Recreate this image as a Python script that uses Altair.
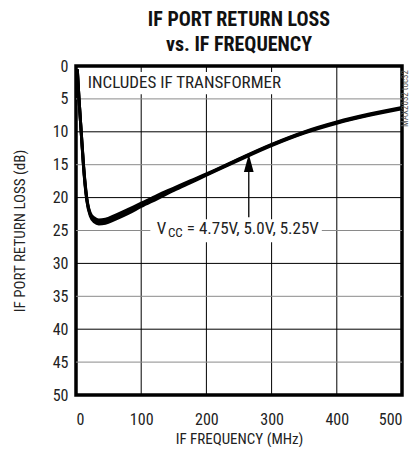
import altair as alt
import pandas as pd

FONT = "Liberation Sans Narrow, Roboto Condensed, DejaVu Sans Condensed, Liberation Sans, sans-serif"

# ---- data ----
freq_mhz = [2, 4.6, 8, 11.5, 16.5, 22, 28, 35, 45, 60, 80, 100, 125, 150, 175, 200, 250, 300, 350, 400, 450, 500]
rl_475 = [0.5, 5.0, 10.0, 15.0, 20.0, 22.4, 23.1, 23.4, 23.3, 22.7, 21.8, 20.85, 19.65, 18.55, 17.45, 16.4, 14.1, 11.9, 10.0, 8.5, 7.3, 6.3]
rl_500 = [0.5, 5.0, 10.0, 15.1, 20.2, 22.6, 23.4, 23.7, 23.6, 23.0, 22.1, 21.1, 19.9, 18.7, 17.6, 16.5, 14.2, 12.0, 10.1, 8.6, 7.4, 6.4]
rl_525 = [0.5, 5.0, 10.1, 15.3, 20.4, 22.8, 23.7, 24.0, 23.9, 23.3, 22.4, 21.35, 20.15, 18.9, 17.75, 16.6, 14.3, 12.1, 10.2, 8.7, 7.5, 6.5]

x_ticks = [0, 100, 200, 300, 400, 500]
y_ticks = [0, 5, 10, 15, 20, 25, 30, 35, 40, 45, 50]
x_grid = [100, 200, 300, 400]
y_grid_dark = [10, 20, 30, 40]
y_grid_light = [5, 15, 25, 35, 45]

rows = []
for name, vals in [("4.75V", rl_475), ("5.0V", rl_500), ("5.25V", rl_525)]:
    for f, v in zip(freq_mhz, vals):
        rows.append({"f": f, "rl": v, "vcc": name})
curve_df = pd.DataFrame(rows)

xs = alt.Scale(domain=[0, 500], nice=False)
ys = alt.Scale(domain=[0, 50], reverse=True, nice=False)

AX = alt.Axis(values=x_ticks, title="IF FREQUENCY (MHz)", grid=False,
              domain=False, ticks=False, labelPadding=16,
              labelFontSize=16, titleFontSize=15, titleFontWeight="normal",
              titlePadding=4, labelFont=FONT, titleFont=FONT,
              labelOverlap=False, labelColor="#222", titleColor="#222")
AY = alt.Axis(values=y_ticks, title="IF PORT RETURN LOSS (dB)", grid=False,
              domain=False, ticks=False, labelPadding=8,
              labelFontSize=16, titleFontSize=15, titleFontWeight="normal",
              titlePadding=25, labelFont=FONT, titleFont=FONT,
              labelOverlap=False, labelColor="#222", titleColor="#222")


def X(field):
    return alt.X(field, scale=xs, axis=AX)


def Y(field):
    return alt.Y(field, scale=ys, axis=AY)


xgrid = alt.Chart(pd.DataFrame({"g": x_grid})).mark_rule(color="black", strokeWidth=1).encode(x=X("g:Q"))
ygrid_d = alt.Chart(pd.DataFrame({"g": y_grid_dark})).mark_rule(color="black", strokeWidth=1).encode(y=Y("g:Q"))
ygrid_l = alt.Chart(pd.DataFrame({"g": y_grid_light})).mark_rule(color="#8a8a8a", strokeWidth=1).encode(y=Y("g:Q"))

# white label backgrounds
box_df = pd.DataFrame({"x1": [12, 114], "x2": [330, 377], "y1": [0.9, 23.3], "y2": [4.3, 26.8]})
boxes = alt.Chart(box_df).mark_rect(color="white").encode(x=X("x1:Q"), x2="x2:Q", y=Y("y1:Q"), y2="y2:Q")

lines = alt.Chart(curve_df).mark_line(color="black", strokeWidth=3, interpolate="monotone").encode(
    x=X("f:Q"), y=Y("rl:Q"), detail="vcc:N")

txt_inc = alt.Chart(pd.DataFrame({"x": [18], "y": [2.6], "t": ["INCLUDES IF TRANSFORMER"]})).mark_text(
    align="left", baseline="middle", font=FONT, fontSize=17, color="#222").encode(
    x=X("x:Q"), y=Y("y:Q"), text="t:N")

txt_v = alt.Chart(pd.DataFrame({"x": [124], "y": [24.8], "t": ["V"]})).mark_text(
    align="left", baseline="middle", font=FONT, fontSize=17, color="#222").encode(
    x=X("x:Q"), y=Y("y:Q"), text="t:N")
txt_cc = alt.Chart(pd.DataFrame({"x": [141], "y": [25.4], "t": ["CC"]})).mark_text(
    align="left", baseline="middle", font=FONT, fontSize=13, color="#222").encode(
    x=X("x:Q"), y=Y("y:Q"), text="t:N")
txt_eq = alt.Chart(pd.DataFrame({"x": [170], "y": [24.8], "t": ["= 4.75V, 5.0V, 5.25V"]})).mark_text(
    align="left", baseline="middle", font=FONT, fontSize=17, color="#222").encode(
    x=X("x:Q"), y=Y("y:Q"), text="t:N")

arrow_df = pd.DataFrame({"x": [265], "y1": [23.0], "y2": [15.5], "yh": [14.75]})
arrow_shaft = alt.Chart(arrow_df).mark_rule(color="black", strokeWidth=1.3).encode(
    x=X("x:Q"), y=Y("y1:Q"), y2="y2:Q")
arrow_head = alt.Chart(arrow_df).mark_point(
    shape="M0,-1L0.55,1L-0.55,1Z", filled=True, color="black", opacity=1, size=313, strokeWidth=0).encode(
    x=X("x:Q"), y=Y("yh:Q"))

tag = alt.Chart(pd.DataFrame({"t": ["MAX2032 toc32"]})).mark_text(
    angle=270, align="right", baseline="middle", font=FONT, fontSize=9, color="#555").encode(
    x=alt.value(329), y=alt.value(4), text="t:N")

chart = alt.layer(
    xgrid, ygrid_l, ygrid_d, boxes, lines, txt_inc, txt_v, txt_cc, txt_eq, arrow_shaft, arrow_head, tag
).properties(
    width=326, height=329,
    title=alt.TitleParams(["IF PORT RETURN LOSS", "vs. IF FREQUENCY"], anchor="middle",
                          font=FONT, fontSize=20, fontWeight="bold", lineHeight=25, offset=3,
                          color="#111"),
    autosize=alt.AutoSizeParams(type="none"),
    padding={"left": 68, "top": 58, "right": 8, "bottom": 52},
).configure_view(stroke="black", strokeWidth=3.5)

chart.save("out.html", embed_options={"renderer": "svg", "actions": False})
